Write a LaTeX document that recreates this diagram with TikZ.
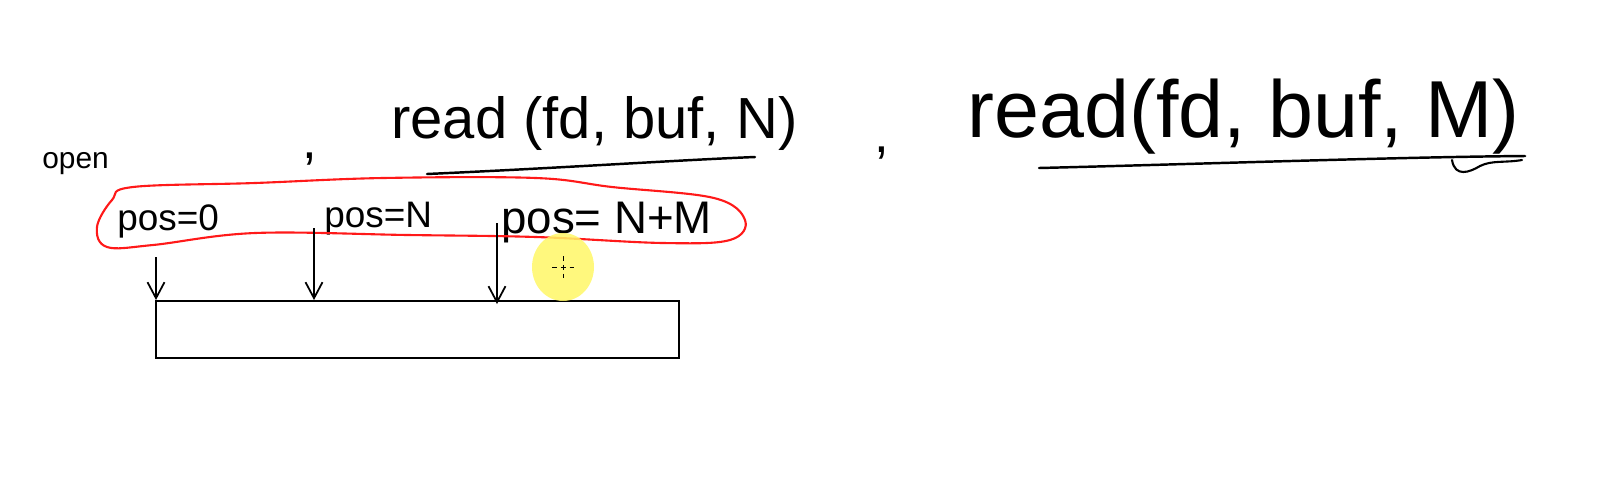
\documentclass[tikz,border=0pt]{standalone}
\usepackage{fontspec}
\setmainfont{Liberation Sans}
\usetikzlibrary{positioning, arrows.meta}
\tikzstyle{hand} = [inner sep=0pt, anchor=base west]
\tikzstyle{arrow} = [line width=1pt,-{Straight Barb[length=3.2mm,width=3.4mm]}]
\tikzstyle{lasso} = [line width=1.2pt, draw=red!90!white]
\tikzstyle{uline} = [line width=1.4pt, line cap=round]
\tikzstyle{filebox} = [rectangle, draw=black, line width=1.1pt,
minimum width=10.46cm, minimum height=1.14cm, inner sep=0pt]
\newcommand{\fs}[1]{\fontsize{#1}{#1}\selectfont}

\begin{document}
\begin{tikzpicture}[x=0.02cm, y=-0.02cm]
\useasboundingbox (0,0) rectangle (1621,495);

\node (open) [hand, font=\fs{17}] at (42,168) {open};
\node (comma1) [hand, font=\fs{30}] at (302,158) {,};
\node (readN) [hand, font=\fs{33}] at (391,138) {read (fd, buf, N)};
\node (comma2) [hand, font=\fs{30}] at (874,152) {,};
\node (readM) [hand, font=\fs{46}] at (967,137) {read(fd, buf, M)};

\node (pos0) [hand, font=\fs{21}] at (117,230) {pos=0};
\node (posN) [hand, font=\fs{21}] at (324,227) {pos=N};
\node (posNM) [hand, font=\fs{26}] at (501,233) {pos= N+M};

\node (file) [filebox] at (417.5,329.5) {};

% underlines
\draw [uline] (427,174) .. controls (560,168) and (680,160) .. (755,157);
\draw [uline] (1039,168) .. controls (1200,164) and (1400,157) .. (1525,156);
\draw [uline, line width=1.2pt] (1452,160) .. controls (1455,178) and (1470,172) .. (1480,166)
  .. controls (1492,160) and (1505,163) .. (1522,160);

% the lasso round the positions
\draw [lasso] plot [smooth cycle, tension=0.6] coordinates {
(97,227) (112,200) (133,187) (255,183) (383,178) (536,178) (612,187)
(714,198) (745,220) (730,240) (663,243) (536,237) (408,235) (255,233)
(153,245) (107,247)};

\coordinate (a0) at (156,257);
\coordinate (a1) at (314,228);
\coordinate (a2) at (497,223);
\draw [arrow] (a0) -- (a0 |- file.north);
\draw [arrow] (a1) -- (a1 |- file.north);
\draw [arrow] (a2) -- ([yshift=-0.08cm]a2 |- file.north);

% pointer
\fill [yellow!60, opacity=0.85] (563,267) ellipse [x radius=0.62cm, y radius=0.68cm];
\draw [densely dashed, line width=0.5pt] (552,267) -- (574,267) (563,256) -- (563,278);

\end{tikzpicture}
\end{document}
